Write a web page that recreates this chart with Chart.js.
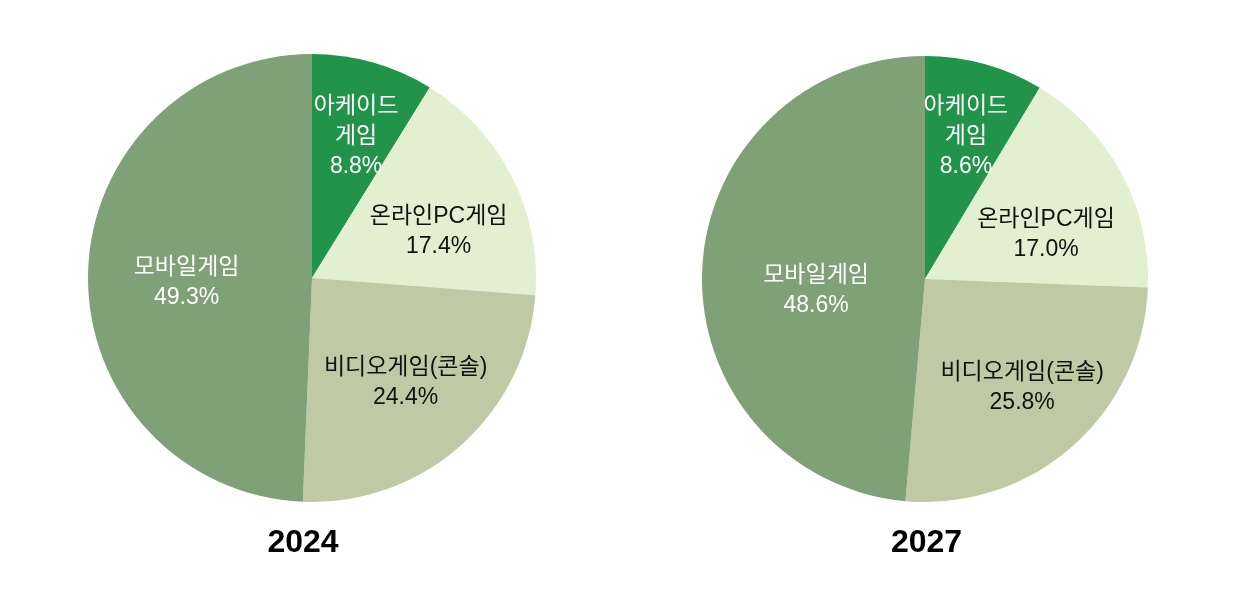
<!DOCTYPE html>
<html><head><meta charset="utf-8">
<script src="https://cdn.jsdelivr.net/npm/chart.js@4"></script>
<style>
html,body{margin:0;padding:0;background:#fff;}
#wrap{position:relative;width:1236px;height:594px;}
.c{position:absolute;top:0;width:618px;height:594px;}
</style></head><body>
<div id="wrap">
<div class="c" style="left:0"><canvas id="c1"></canvas></div>
<div class="c" style="left:618px"><canvas id="c2"></canvas></div>
</div>
<script>
const categories = ["아케이드 게임", "온라인PC게임", "비디오게임(콘솔)", "모바일게임"];
const labelLines = [["아케이드", "게임"], ["온라인PC게임"], ["비디오게임(콘솔)"], ["모바일게임"]];
const values2024 = [8.8, 17.4, 24.4, 49.3];
const values2027 = [8.6, 17.0, 25.8, 48.6];
const years = ["2024", "2027"];
const colors = ["#21944a", "#e2efd0", "#bfc9a3", "#80a077"];
const textColors = ["#ffffff", "#111111", "#111111", "#ffffff"];

const labelPlugin = {
  id: 'sliceLabels',
  afterDatasetsDraw(chart, args, opts) {
    const ctx = chart.ctx;
    const meta = chart.getDatasetMeta(0);
    const data = chart.data.datasets[0].data;
    ctx.save();
    ctx.textAlign = 'center';
    ctx.textBaseline = 'middle';
    ctx.font = '23px "Liberation Sans", "Noto Sans CJK KR", sans-serif';
    meta.data.forEach((arc, i) => {
      const p = arc.getProps(['x','y','startAngle','endAngle','outerRadius'], true);
      const mid = (p.startAngle + p.endAngle) / 2 + opts.shift[i] * Math.PI / 180;
      const r = p.outerRadius * opts.frac[i];
      const cx = p.x + Math.cos(mid) * r;
      const cy = p.y + Math.sin(mid) * r + 3;
      const lines = labelLines[i].concat([data[i].toFixed(1) + '%']);
      const lh = 30;
      const y0 = cy - (lines.length - 1) * lh / 2;
      ctx.fillStyle = textColors[i];
      lines.forEach((t, k) => ctx.fillText(t, cx, y0 + k * lh));
    });
    ctx.font = 'bold 32px "Liberation Sans", "Noto Sans", sans-serif';
    ctx.fillStyle = '#000';
    ctx.fillText(opts.year, opts.titleX, 543);
    ctx.restore();
  }
};

function makeChart(id, values, year, pad, titleX, frac, shift) {
  return new Chart(document.getElementById(id), {
    type: 'pie',
    data: { labels: categories, datasets: [{ data: values, backgroundColor: colors, borderWidth: 0, hoverOffset: 0 }] },
    options: {
      responsive: true, maintainAspectRatio: false, animation: false,
      layout: { padding: pad },
      events: [],
      plugins: { legend: { display: false }, tooltip: { enabled: false }, title: { display: false },
        sliceLabels: { year: year, titleX: titleX, frac: frac, shift: shift } }
    },
    plugins: [labelPlugin]
  });
}
makeChart('c1', values2024, years[0], { left: 88, top: 54, right: 82, bottom: 92 }, 303,
  [0.675, 0.607, 0.616, 0.56], [1.1, 5.6, -1.1, -2]);
makeChart('c2', values2027, years[1], { left: 84, top: 56, right: 88, bottom: 92 }, 308.5,
  [0.675, 0.583, 0.645, 0.49], [0.3, 7, -1.1, -7]);
</script>
</body></html>
